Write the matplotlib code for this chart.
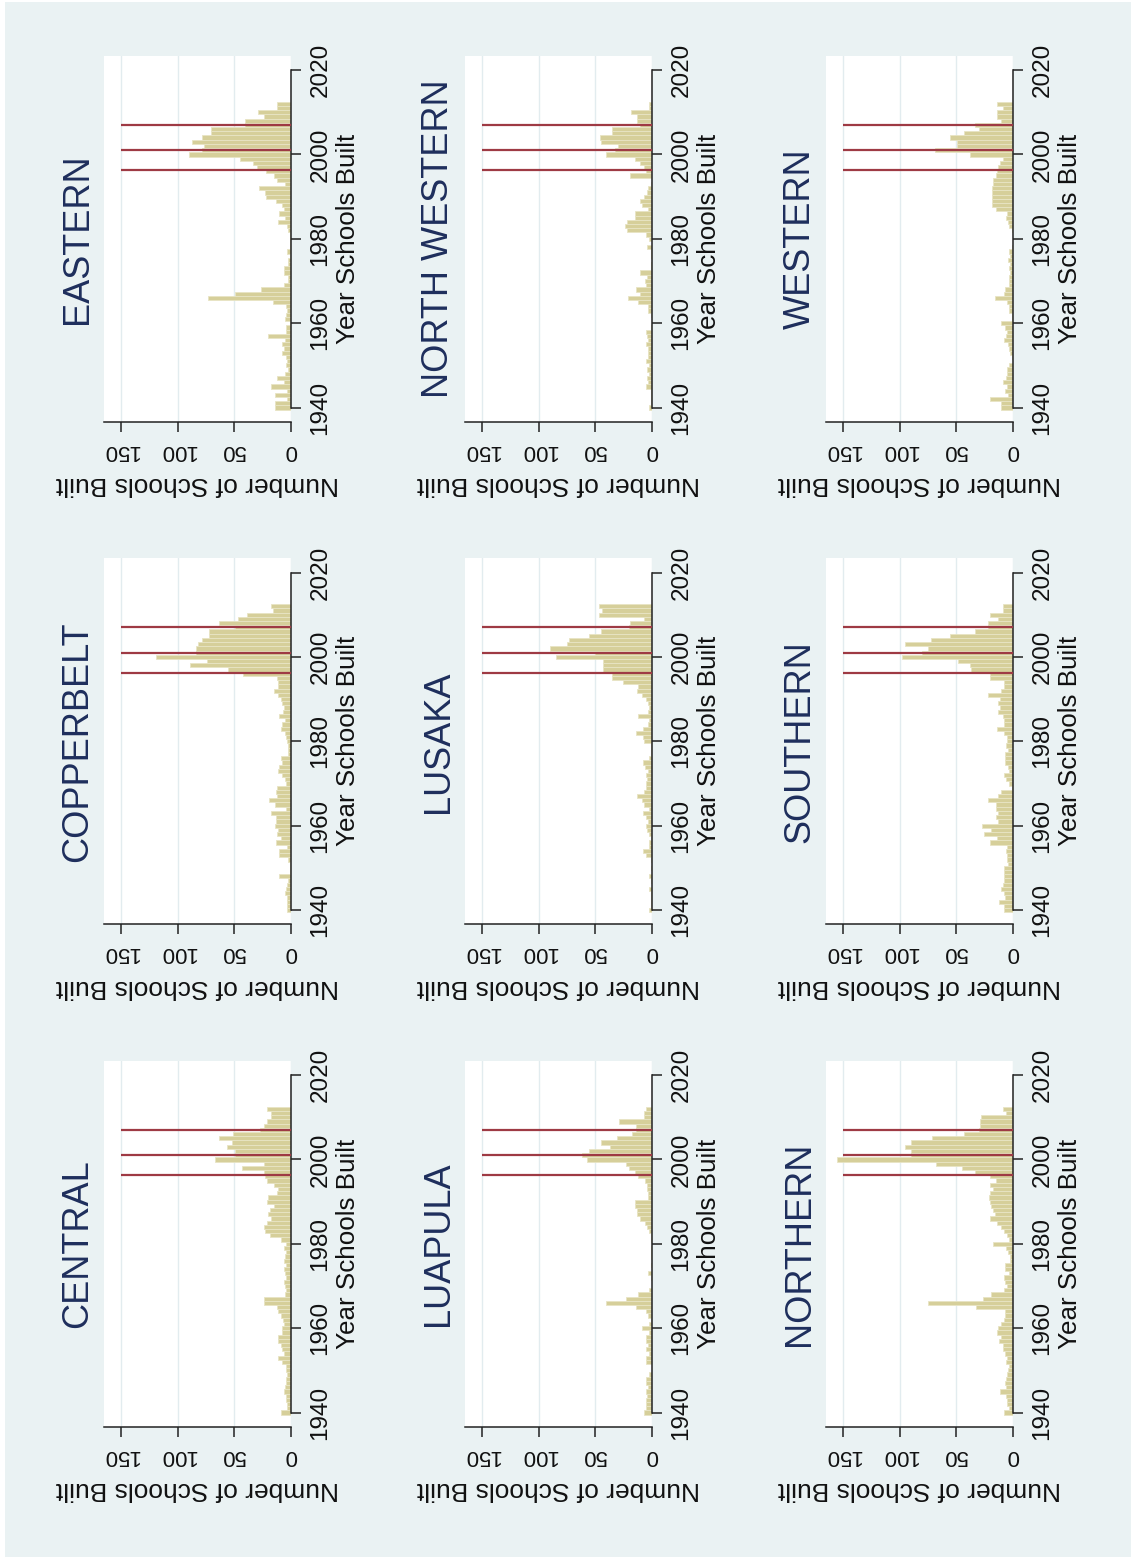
import matplotlib
matplotlib.use('Agg')
import matplotlib.pyplot as plt
from matplotlib.patches import Rectangle

plt.rcParams['font.family'] = ['Liberation Sans', 'DejaVu Sans']

# Years (bins centred on each year), listed from 2012 down to 1940
years = list(range(2012, 1939, -1))

central = [21, 17, 17, 21, 24, 27, 51, 63, 52, 56, 49, 49, 67,
           24, 43, 24, 23, 21, 15, 11, 12, 20, 21,
           15, 18, 20, 17, 21, 24, 23, 18, 9, 4,
           6, 4, 5, 6, 4, 6, 5, 4, 6, 5,
           4, 5, 24, 24, 12, 11, 9, 7, 6, 8,
           8, 11, 11, 9, 8, 6, 11, 8, 4, 4,
           3, 4, 4, 5, 6, 4, 4, 3, 3, 9]
copperbelt = [17, 16, 39, 47, 63, 49, 72, 72, 78, 82, 84, 84, 119,
              74, 89, 55, 42, 12, 11, 11, 15, 11, 9,
              8, 6, 7, 10, 5, 8, 9, 5, 4, 3,
              2, 2, 2, 9, 8, 10, 11, 8, 5, 4,
              12, 13, 12, 19, 14, 4, 17, 13, 13, 14,
              11, 12, 9, 13, 3, 10, 10, 2, 1, 1,
              1, 10, 2, 3, 4, 5, 3, 3, 3, 3]
eastern = [12, 12, 29, 24, 40, 40, 70, 70, 78, 87, 77, 78, 90,
           45, 33, 30, 22, 15, 12, 5, 28, 23, 22,
           13, 8, 6, 10, 5, 11, 3, 2, 1, 1,
           1, 1, 3, 1, 2, 2, 6, 6, 2, 2,
           6, 26, 49, 73, 16, 4, 3, 4, 5, 1,
           4, 4, 20, 5, 8, 6, 8, 4, 3, 4,
           2, 5, 12, 6, 17, 3, 14, 3, 14, 14]
luapula = [5, 7, 7, 29, 14, 14, 17, 31, 45, 37, 55, 62, 57,
           23, 20, 15, 12, 6, 4, 4, 3, 3, 15,
           15, 13, 13, 10, 6, 4, 2, 1, 1, 0,
           1, 1, 1, 0, 1, 0, 3, 1, 0, 0,
           2, 12, 23, 40, 14, 5, 3, 1, 2, 9,
           2, 5, 5, 3, 5, 2, 5, 5, 0, 0,
           2, 5, 5, 3, 5, 4, 5, 5, 5, 7]
lusaka = [47, 44, 47, 7, 19, 20, 45, 55, 73, 75, 90, 50, 85,
          43, 43, 43, 35, 35, 25, 12, 13, 9, 5,
          3, 2, 3, 12, 2, 3, 8, 14, 8, 7,
          1, 1, 1, 2, 8, 6, 3, 5, 4, 5,
          5, 7, 13, 9, 7, 2, 8, 5, 3, 5,
          4, 2, 1, 2, 2, 8, 5, 1, 0, 1,
          0, 2, 1, 0, 2, 1, 1, 1, 1, 2]
north_western = [2, 2, 18, 13, 13, 10, 35, 35, 46, 45, 30, 32, 40,
                 15, 10, 7, 5, 19, 0, 1, 3, 4, 7,
                 10, 9, 3, 15, 15, 22, 24, 22, 5, 2,
                 0, 4, 1, 1, 0, 1, 1, 10, 4, 6,
                 5, 14, 10, 21, 12, 3, 3, 1, 0, 0,
                 1, 5, 4, 3, 5, 3, 3, 3, 5, 2,
                 4, 2, 4, 3, 5, 1, 1, 1, 1, 2]
northern = [9, 6, 28, 29, 29, 30, 43, 71, 90, 95, 90, 90, 155,
            68, 45, 33, 20, 15, 20, 17, 20, 21, 20,
            19, 17, 16, 20, 14, 10, 8, 5, 3, 17,
            6, 4, 2, 2, 7, 7, 3, 8, 7, 5,
            8, 19, 26, 75, 32, 7, 7, 8, 10, 13,
            14, 10, 12, 9, 9, 7, 5, 6, 3, 4,
            5, 6, 7, 6, 11, 6, 5, 5, 3, 8]
southern = [9, 9, 20, 13, 22, 22, 33, 55, 72, 95, 75, 80, 98,
            48, 38, 37, 20, 20, 8, 8, 10, 22, 11,
            13, 11, 13, 9, 8, 8, 14, 8, 5, 5,
            6, 4, 7, 7, 7, 4, 3, 8, 6, 3,
            1, 10, 13, 22, 15, 15, 13, 15, 13, 27,
            19, 25, 14, 20, 5, 6, 5, 5, 4, 8,
            8, 8, 8, 9, 10, 8, 7, 12, 8, 8]
western = [14, 9, 14, 14, 10, 33, 30, 43, 55, 49, 49, 69, 38,
           9, 11, 13, 14, 15, 17, 17, 18, 18, 18,
           18, 18, 15, 5, 6, 4, 3, 1, 0, 0,
           0, 1, 3, 2, 4, 2, 3, 2, 3, 3,
           3, 7, 8, 16, 5, 3, 3, 1, 1, 10,
           7, 5, 6, 8, 4, 3, 2, 1, 0, 3,
           5, 5, 6, 9, 5, 7, 4, 20, 10, 10]

region_names = ["CENTRAL", "COPPERBELT", "EASTERN",
                "LUAPULA", "LUSAKA", "NORTH WESTERN",
                "NORTHERN", "SOUTHERN", "WESTERN"]
region_values = [central, copperbelt, eastern,
                 luapula, lusaka, north_western,
                 northern, southern, western]
event_years = [1996.3, 2001.0, 2007.0]
count_ticks = [0, 50, 100, 150]
year_ticks = [1940, 1960, 1980, 2000, 2020]

W, H = 1136, 1562
fig = plt.figure(figsize=(W / 100, H / 100), dpi=100)
fig.patch.set_facecolor('white')
fig.patches.append(Rectangle((5 / W, 5 / H), 1126 / W, 1555 / H,
                             transform=fig.transFigure,
                             facecolor='#EAF2F3', edgecolor='none', zorder=-10))

BAR = '#D6CF9A'
BAR_EDGE = '#E8E4C4'
RED = '#9E3A44'
GRID = '#E2ECEF'
TITLE = '#1E2E5C'
AXC = '#222222'
TXT = '#111111'

ax_w = 186.7
ax_h = 366.2
for idx, (name, vals) in enumerate(zip(region_names, region_values)):
    i, j = divmod(idx, 3)
    c = i
    r = 2 - j
    right = 290.7 + 361 * c
    left = right - ax_w
    y2020 = 70 + 502.5 * r
    top = y2020 - 14.3
    ax = fig.add_axes([left / W, 1 - (top + ax_h) / H, ax_w / W, ax_h / H])
    ax.set_facecolor('white')
    ax.barh(years, vals, height=1.0, color=BAR, edgecolor=BAR_EDGE, linewidth=0.6, zorder=2)
    ax.hlines(event_years, 0, 150, colors=RED, linewidth=1.6, zorder=3)
    ax.set_xlim(165, 0)
    ax.set_ylim(1936.6, 2023.4)
    ax.set_xticks(count_ticks)
    ax.set_yticks(year_ticks)
    ax.yaxis.tick_right()
    ax.grid(axis='x', color=GRID, linewidth=1.0, zorder=0)
    ax.grid(axis='y', visible=False)
    ax.set_axisbelow(True)
    for s in ['top', 'left']:
        ax.spines[s].set_visible(False)
    ax.spines['right'].set_bounds(1940, 2020)
    for s in ['right', 'bottom']:
        ax.spines[s].set_color(AXC)
        ax.spines[s].set_linewidth(1.1)
    ax.tick_params(axis='x', direction='out', length=7, width=1.1, color=AXC,
                   labelrotation=180, labelsize=16, pad=6, labelcolor=TXT)
    ax.tick_params(axis='y', direction='out', length=7, width=1.1, color=AXC,
                   labelrotation=90, labelsize=17.5, pad=6.5,
                   labelcolor=TXT, right=True, left=False,
                   labelright=True, labelleft=False)
    for lab in ax.get_yticklabels():
        lab.set_verticalalignment('center')
    ax.set_xlabel('Number of Schools Built', rotation=180, fontsize=19, color=TXT)
    ax.xaxis.set_label_coords(0.5, -0.138)
    ax.yaxis.set_label_position('right')
    ax.set_ylabel('Year Schools Built', rotation=90, fontsize=18.7, color=TXT)
    ax.yaxis.set_label_coords(1.24, 0.5)
    ax.text(-0.14, 0.5, name, transform=ax.transAxes, rotation=90,
            ha='center', va='center', fontsize=26, color=TITLE)

fig.savefig('out.png', dpi=100, facecolor=fig.get_facecolor())
